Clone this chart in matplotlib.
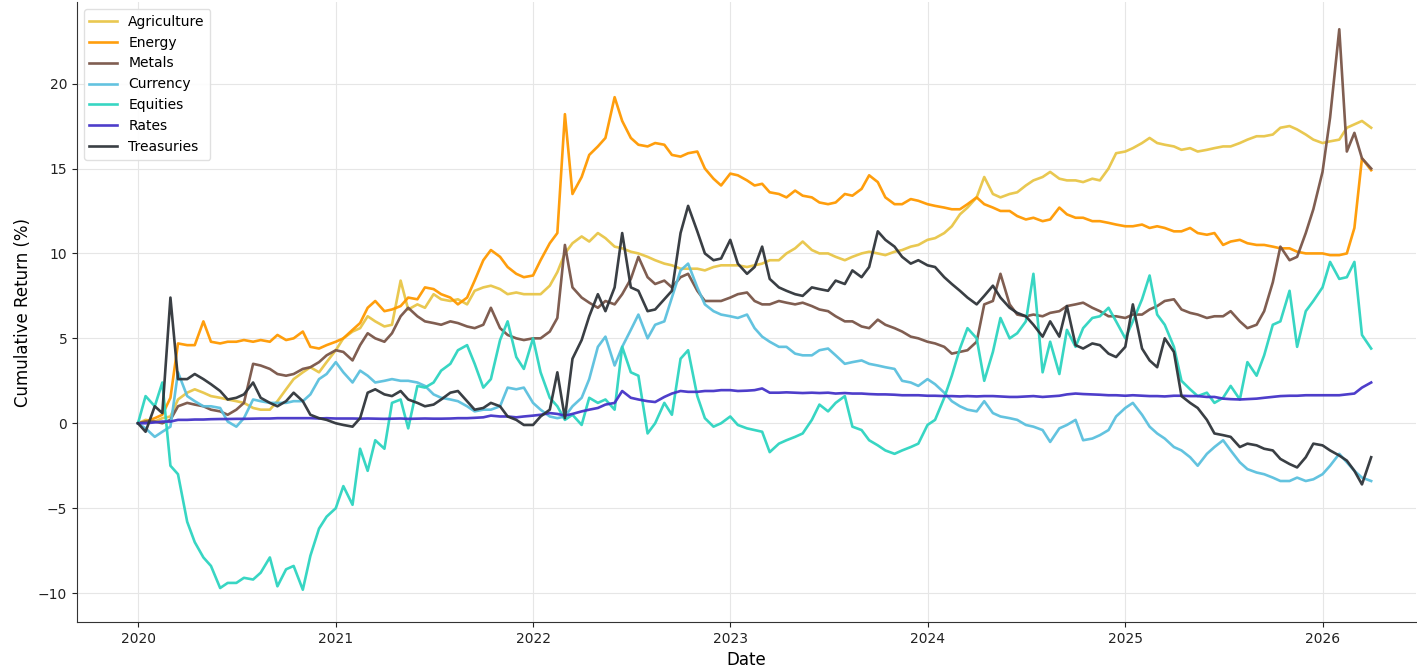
import pandas as pd
import matplotlib
matplotlib.use("Agg")
import matplotlib.pyplot as plt
import matplotlib.dates as mdates

# semi-monthly observation dates, Jan 2020 - Apr 2026
dates = pd.date_range("2020-01-01", periods=151, freq="SMS")

agriculture = [
    0.0, 0.2, 0.1, 0.3, 0.4, 1.4, 1.8, 2.0, 1.8, 1.6, 1.5, 1.4, 1.3, 1.2, 0.9, 0.8, 0.8, 1.3, 2.0, 2.6, 3.0, 3.3, 3.0, 3.6, 4.3,
    5.0, 5.4, 5.6, 6.3, 6.0, 5.7, 5.8, 8.4, 6.7, 7.0, 6.8, 7.6, 7.3, 7.2, 7.3, 7.0, 7.8, 8.0, 8.1, 7.9, 7.6, 7.7, 7.6, 7.6,
    7.6, 8.1, 8.9, 10.0, 10.6, 11.0, 10.7, 11.2, 10.9, 10.4, 10.3, 10.1, 10.0, 9.8, 9.6,
    9.4, 9.3, 9.1, 9.1, 9.1, 9.0, 9.2, 9.3, 9.3, 9.3, 9.2, 9.3, 9.4, 9.6, 9.6, 10.0, 10.3, 10.7, 10.2, 10.0, 10.0, 9.8, 9.6,
    9.8, 10.0, 10.1, 10.0, 9.9, 10.1, 10.2, 10.4, 10.5, 10.8,
    10.9, 11.2, 11.6, 12.3, 12.7, 13.3, 14.5, 13.5, 13.3, 13.5, 13.6, 14.0, 14.3, 14.5, 14.8, 14.4, 14.3, 14.3, 14.2, 14.4,
    14.3, 15.0, 15.9, 16.0, 16.2, 16.5, 16.8, 16.5, 16.4, 16.3, 16.1, 16.2, 16.0, 16.1,
    16.2, 16.3, 16.3, 16.5, 16.7, 16.9, 16.9, 17.0, 17.4, 17.5, 17.3, 17.0, 16.7, 16.5, 16.6, 16.7, 17.4, 17.6, 17.8, 17.4,
]
energy = [
    0.0, 0.1, 0.3, 0.5, 1.5, 4.7, 4.6, 4.6, 6.0, 4.8, 4.7, 4.8, 4.8, 4.9, 4.8, 4.9, 4.8, 5.2, 4.9, 5.0, 5.4, 4.5, 4.4, 4.6, 4.8,
    5.0, 5.5, 5.9, 6.8, 7.2, 6.6, 6.7, 6.9, 7.4, 7.3, 8.0, 7.9, 7.6, 7.4, 7.0, 7.4, 8.4, 9.6, 10.2, 9.8, 9.2, 8.8, 8.6, 8.7,
    9.6, 10.6, 11.2, 18.2, 13.5, 14.5, 15.8, 16.3, 16.8, 19.2, 17.8, 16.8, 16.4, 16.3, 16.5,
    16.4, 15.8, 15.7, 15.9, 16.0, 15.0, 14.4, 14.0, 14.7, 14.6, 14.3, 14.0, 14.1, 13.6, 13.5, 13.3, 13.7, 13.4, 13.3, 13.0,
    12.9, 13.0, 13.5, 13.4, 13.8, 14.6, 14.2, 13.3, 12.9, 12.9, 13.2, 13.1, 12.9,
    12.8, 12.7, 12.6, 12.6, 12.9, 13.3, 12.9, 12.7, 12.5, 12.5, 12.2, 12.0, 12.1, 11.9, 12.0, 12.7, 12.3, 12.1, 12.1, 11.9,
    11.9, 11.8, 11.7, 11.6, 11.6, 11.7, 11.5, 11.6, 11.5, 11.3, 11.3, 11.5, 11.2, 11.1,
    11.2, 10.5, 10.7, 10.8, 10.6, 10.5, 10.5, 10.4, 10.3, 10.3, 10.1, 10.0, 10.0, 10.0, 9.9, 9.9, 10.0, 11.5, 15.6, 14.9,
]
metals = [
    0.0, 0.1, 0.1, 0.0, 0.2, 1.0, 1.2, 1.1, 1.0, 0.8, 0.7, 0.5, 0.8, 1.2, 3.5, 3.4, 3.2, 2.9, 2.8, 2.9, 3.2, 3.3, 3.6, 4.0, 4.3,
    4.2, 3.7, 4.6, 5.3, 5.0, 4.8, 5.3, 6.3, 6.8, 6.3, 6.0, 5.9, 5.8, 6.0, 5.9, 5.7, 5.6, 5.8, 6.8, 5.6, 5.2, 5.0, 4.9, 5.0,
    5.0, 5.4, 6.2, 10.5, 8.0, 7.4, 7.1, 6.8, 7.2, 7.0, 7.6, 8.5, 9.8, 8.6, 8.2,
    8.4, 8.0, 8.6, 8.8, 7.8, 7.2, 7.2, 7.2, 7.4, 7.6, 7.7, 7.2, 7.0, 7.0, 7.2, 7.1, 7.0, 7.1, 6.9, 6.7, 6.6, 6.3, 6.0, 6.0,
    5.7, 5.6, 6.1, 5.8, 5.6, 5.4, 5.1, 5.0, 4.8,
    4.7, 4.5, 4.1, 4.2, 4.3, 4.8, 7.0, 7.2, 8.8, 7.0, 6.4, 6.3, 6.4, 6.3, 6.5, 6.6, 6.9, 7.0, 7.1, 6.8, 6.6, 6.3, 6.3, 6.2,
    6.4, 6.4, 6.7, 6.9, 7.2, 7.3, 6.7, 6.5, 6.4, 6.2,
    6.3, 6.3, 6.6, 6.0, 5.6, 5.8, 6.6, 8.3, 10.4, 9.6, 9.8, 11.2, 12.6, 14.8, 18.0, 23.2, 16.0, 17.1, 15.6, 15.0,
]
currency = [
    0.0, -0.3, -0.8, -0.5, -0.2, 3.0, 1.6, 1.3, 1.0, 1.0, 0.9, 0.1, -0.2, 0.3, 1.4, 1.3, 1.2, 1.2, 1.2, 1.3, 1.3, 1.7, 2.6, 2.9, 3.6,
    3.0, 2.4, 3.1, 2.8, 2.4, 2.5, 2.6, 2.5, 2.5, 2.4, 2.2, 1.7, 1.5, 1.4, 1.3, 1.0, 0.7, 0.8, 0.8, 1.0, 2.1, 2.0, 2.1, 1.2,
    0.8, 0.4, 0.3, 0.4, 1.0, 1.5, 2.6, 4.5, 5.1, 3.4, 4.5, 5.5, 6.4, 5.0, 5.8,
    6.0, 7.4, 9.0, 9.4, 8.0, 7.0, 6.6, 6.4, 6.3, 6.2, 6.4, 5.6, 5.1, 4.8, 4.5, 4.5, 4.1, 4.0, 4.0, 4.3, 4.4, 4.0, 3.5, 3.6,
    3.7, 3.5, 3.4, 3.3, 3.2, 2.5, 2.4, 2.2, 2.6,
    2.3, 1.8, 1.3, 1.0, 0.8, 0.7, 1.3, 0.6, 0.4, 0.3, 0.2, -0.1, -0.2, -0.4, -1.1, -0.3, -0.1, 0.2, -1.0, -0.9, -0.7, -0.4,
    0.4, 0.9, 1.2, 0.5, -0.2, -0.6, -0.9, -1.4, -1.6, -2.0, -2.5, -1.8,
    -1.4, -1.0, -1.6, -2.3, -2.7, -2.9, -3.0, -3.2, -3.4, -3.4, -3.2, -3.4, -3.3, -3.0, -2.5, -1.8, -2.3, -2.8, -3.2, -3.4,
]
equities = [
    0.0, 1.6, 1.0, 2.4, -2.5, -3.0, -5.8, -7.0, -7.9, -8.4, -9.7, -9.4, -9.4, -9.1, -9.2, -8.8, -7.9, -9.6, -8.6, -8.4, -9.8,
    -7.8, -6.2, -5.5, -5.0,
    -3.7, -4.8, -1.5, -2.8, -1.0, -1.5, 1.2, 1.4, -0.3, 2.2, 2.1, 2.4, 3.1, 3.5, 4.3, 4.6, 3.5, 2.1, 2.6, 4.9, 6.0, 3.9, 3.2,
    5.0, 3.0, 1.5, 1.0, 0.2, 0.5, -0.1, 1.5, 1.2, 1.4, 0.8, 4.5, 3.0, 2.8, -0.6, 0.0,
    1.2, 0.5, 3.8, 4.3, 1.6, 0.3, -0.2, 0.0, 0.4, -0.1, -0.3, -0.4, -0.5, -1.7, -1.2, -1.0, -0.8, -0.6, 0.2, 1.1, 0.7, 1.2,
    1.6, -0.2, -0.4, -1.0, -1.3, -1.6, -1.8, -1.6, -1.4, -1.2, -0.1,
    0.2, 1.5, 2.8, 4.4, 5.6, 5.0, 2.5, 4.2, 6.2, 5.0, 5.3, 6.0, 8.8, 3.0, 4.8, 2.9, 5.5, 4.5, 5.6, 6.2, 6.3, 6.8, 6.0, 5.0,
    6.0, 7.3, 8.7, 6.4, 5.8, 4.5, 2.5, 2.0, 1.6, 1.8,
    1.2, 1.5, 2.2, 1.4, 3.6, 2.8, 4.0, 5.8, 6.0, 7.8, 4.5, 6.6, 7.2, 8.0, 9.5, 8.5, 8.6, 9.5, 5.2, 4.4,
]
rates = [
    0.0, 0.0, 0.05, 0.1, 0.1, 0.2, 0.2, 0.22, 0.22, 0.24, 0.25, 0.25, 0.26, 0.26, 0.27, 0.28, 0.28, 0.3, 0.3, 0.3, 0.3, 0.3,
    0.28, 0.3, 0.28,
    0.28, 0.28, 0.27, 0.28, 0.27, 0.26, 0.27, 0.28, 0.26, 0.27, 0.28, 0.27, 0.27, 0.28, 0.3, 0.3, 0.32, 0.35, 0.45, 0.4, 0.4,
    0.35, 0.4, 0.45, 0.5, 0.6, 0.55, 0.45, 0.55, 0.7, 0.8, 0.9, 1.1, 1.2, 1.9, 1.5, 1.4, 1.3, 1.25,
    1.55, 1.75, 1.9, 1.85, 1.85, 1.9, 1.9, 1.95, 1.95, 1.9, 1.92, 1.95, 2.05, 1.8, 1.8, 1.82, 1.8, 1.78, 1.8, 1.78, 1.8, 1.75,
    1.78, 1.75, 1.75, 1.72, 1.7, 1.7, 1.68, 1.65, 1.65, 1.65, 1.62,
    1.62, 1.6, 1.6, 1.58, 1.6, 1.58, 1.6, 1.6, 1.58, 1.55, 1.55, 1.58, 1.6, 1.55, 1.58, 1.62, 1.7, 1.75, 1.72, 1.7, 1.68,
    1.65, 1.65, 1.62, 1.65, 1.62, 1.6, 1.6, 1.58, 1.62, 1.62, 1.6, 1.6, 1.55,
    1.55, 1.45, 1.42, 1.4, 1.42, 1.45, 1.5, 1.55, 1.6, 1.62, 1.62, 1.65, 1.65, 1.65, 1.65, 1.65, 1.7, 1.75, 2.1, 2.4,
]
treasuries = [
    0.0, -0.5, 1.0, 0.6, 7.4, 2.6, 2.6, 2.9, 2.6, 2.3, 1.9, 1.4, 1.5, 1.7, 2.4, 1.5, 1.2, 1.0, 1.3, 1.8, 1.3, 0.5, 0.3, 0.2, 0.0,
    -0.1, -0.2, 0.3, 1.8, 2.0, 1.7, 1.6, 1.9, 1.4, 1.2, 1.0, 1.1, 1.4, 1.8, 1.9, 1.3, 0.8, 0.9, 1.2, 1.0, 0.4, 0.2, -0.1,
    -0.1, 0.4, 0.8, 3.0, 0.3, 3.8, 4.9, 6.3, 7.6, 6.6, 8.0, 11.2, 8.0, 7.8, 6.6, 6.7,
    7.3, 7.8, 11.2, 12.8, 11.3, 10.0, 9.6, 9.7, 10.8, 9.4, 8.8, 9.2, 10.4, 8.5, 8.0, 7.8, 7.6, 7.5, 8.0, 7.9, 7.8, 8.4, 8.2,
    9.0, 8.6, 9.2, 11.3, 10.8, 10.4, 9.8, 9.4, 9.6, 9.3,
    9.2, 8.6, 8.2, 7.8, 7.4, 7.0, 7.5, 8.1, 7.4, 6.8, 6.5, 6.3, 5.8, 5.1, 6.0, 5.1, 6.9, 4.6, 4.4, 4.7, 4.6, 4.1, 3.9, 4.5,
    7.0, 4.4, 3.7, 3.3, 5.0, 4.2, 1.6, 1.2, 0.9, 0.2,
    -0.6, -0.7, -0.8, -1.4, -1.2, -1.3, -1.5, -1.6, -2.1, -2.4, -2.6, -2.0, -1.2, -1.3, -1.6, -1.9, -2.2, -2.8, -3.6, -2.0,
]

series = {
    "Agriculture": (agriculture, "#e8c547"),
    "Energy": (energy, "#ff9900"),
    "Metals": (metals, "#795548"),
    "Currency": (currency, "#5bc0de"),
    "Equities": (equities, "#2dd4c0"),
    "Rates": (rates, "#4433c8"),
    "Treasuries": (treasuries, "#2f343a"),
}

fig = plt.figure(figsize=(14.17, 6.68), dpi=100)
ax = fig.add_axes([0.0543, 0.0689, 0.945, 0.928])

for name, (values, color) in series.items():
    ax.plot(dates, values, color=color, lw=1.9, alpha=0.95, label=name)

ax.set_xlim(pd.Timestamp("2019-09-10"), pd.Timestamp("2026-06-23"))
ax.set_ylim(-11.7, 24.8)
ax.xaxis.set_major_locator(mdates.YearLocator())
ax.xaxis.set_major_formatter(mdates.DateFormatter("%Y"))

ax.grid(True, color="#e6e6e6", linewidth=0.8)
ax.set_axisbelow(True)
for side in ["top", "right"]:
    ax.spines[side].set_visible(False)
for side in ["left", "bottom"]:
    ax.spines[side].set_color("#333333")
ax.tick_params(labelsize=10, colors="#222222")

ax.set_xlabel("Date", fontsize=12, labelpad=4)
ax.set_ylabel("Cumulative Return (%)", fontsize=12)
ax.legend(loc="upper left", fontsize=10, framealpha=0.9, edgecolor="#dddddd")

fig.savefig("out.png", dpi=100)
